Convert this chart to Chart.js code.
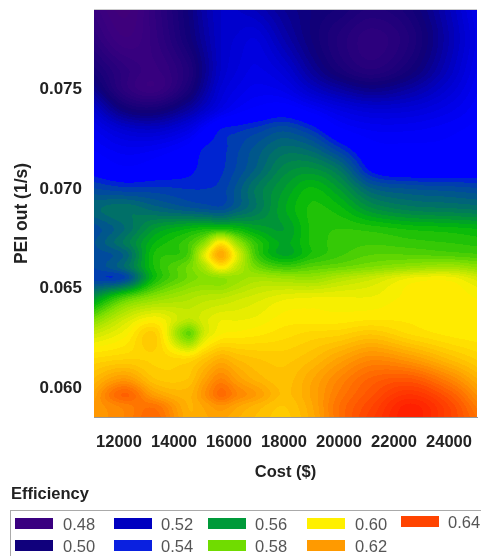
<!DOCTYPE html>
<html><head><meta charset="utf-8">
<script src="https://cdn.jsdelivr.net/npm/chart.js@4/dist/chart.umd.min.js"></script>
<style>
html,body{margin:0;padding:0;background:#fff;width:481px;height:556px;overflow:hidden;font-family:"Liberation Sans",Arial,sans-serif}
#wrap{position:relative;width:481px;height:556px;overflow:hidden;filter:blur(0.4px)}
canvas{position:absolute;left:0;top:0}
#ltitle{position:absolute;left:11px;top:483px;font-size:16.5px;line-height:20px;font-weight:bold;color:#222}
#lbox{position:absolute;left:10px;top:510px;width:480px;height:60px;border:1px solid #aaa;box-sizing:border-box}
.sw{position:absolute;width:38px;height:11px}
.lb{position:absolute;font-size:16.5px;line-height:20px;color:#555}
</style></head><body>
<div id="wrap"><canvas id="c" width="481" height="556"></canvas>
<div id="ltitle">Efficiency</div><div id="lbox"></div></div>
<script>
const costs=[11000,12200,13300,14500,15100,15700,16300,17000,18000,19000,20000,21200,22600,24000,25000];
const peiOut=[0.079,0.0775,0.076,0.075,0.074,0.073,0.072,0.071,0.070,0.069,0.068,0.0673,0.0667,0.0661,0.0655,0.0645,0.0635,0.0627,0.0615,0.0605,0.0597,0.0591,0.0585];
const efficiency=[
[.482,.474,.485,.500,.509,.515,.515,.512,.505,.500,.497,.492,.497,.512,.525],
[.488,.478,.484,.498,.507,.515,.518,.520,.510,.500,.492,.486,.493,.510,.523],
[.497,.486,.482,.492,.504,.515,.520,.523,.518,.506,.496,.490,.498,.513,.525],
[.506,.487,.481,.495,.507,.518,.523,.526,.524,.515,.508,.503,.508,.518,.527],
[.518,.500,.497,.507,.515,.523,.528,.531,.533,.528,.522,.518,.519,.524,.529],
[.526,.517,.515,.522,.530,.5375,.539,.541,.544,.5395,.531,.527,.527,.529,.531],
[.530,.526,.527,.532,.538,.539,.542,.546,.551,.549,.541,.532,.531,.531,.533],
[.535,.531,.533,.536,.539,.5395,.543,.548,.556,.558,.552,.536,.533,.533,.534],
[.543,.541,.541,.540,.540,.541,.546,.553,.560,.5655,.560,.548,.545,.544,.543],
[.549,.552,.549,.546,.545,.544,.548,.553,.562,.568,.566,.558,.554,.553,.552],
[.543,.550,.560,.565,.567,.568,.566,.562,.560,.568,.570,.569,.567,.566,.565],
[.544,.553,.565,.572,.582,.602,.584,.570,.562,.568,.571,.572,.571,.570,.569],
[.543,.548,.568,.573,.595,.617,.595,.572,.562,.568,.572,.575,.575,.574,.573],
[.542,.550,.568,.578,.587,.602,.590,.578,.572,.575,.577,.580,.583,.585,.582],
[.541,.543,.567,.578,.581,.582,.584,.586,.585,.584,.588,.592,.598,.599,.594],
[.558,.575,.583,.587,.589,.590,.592,.594,.597,.598,.598,.598,.601,.602,.600],
[.578,.592,.599,.590,.594,.597,.597,.598,.601,.601,.601,.602,.602,.602,.601],
[.592,.599,.608,.577,.593,.600,.601,.602,.604,.606,.607,.610,.605,.602,.601],
[.605,.607,.607,.605,.610,.615,.612,.610,.609,.612,.618,.624,.620,.612,.607],
[.612,.620,.610,.610,.618,.625,.619,.614,.611,.617,.625,.633,.635,.625,.615],
[.617,.633,.619,.614,.622,.631,.625,.620,.612,.618,.628,.637,.645,.635,.622],
[.620,.626,.629,.615,.618,.622,.618,.614,.610,.617,.630,.640,.651,.640,.627],
[.620,.625,.632,.616,.617,.618,.615,.612,.609,.616,.630,.642,.652,.641,.630]
];
const xTicks=[12000,14000,16000,18000,20000,22000,24000];
const yTicks=[0.060,0.065,0.070,0.075];
const legendLevels=["0.48","0.50","0.52","0.54","0.56","0.58","0.60","0.62","0.64"];
const legendColors=["#3a0080","#10007c","#0000c0","#0a20e0","#009a3a","#70dc00","#fff000","#ff9a00","#ff4400"];
const rampStops=[.465,.48,.50,.515,.53,.5365,.54,.55,.56,.565,.58,.60,.62,.64,.655];
const rampColors=[[74,0,112],[58,0,128],[14,0,120],[0,0,200],[0,0,255],[0,0,255],[0,56,184],[0,106,112],[0,154,48],[0,184,10],[128,224,0],[255,240,0],[255,156,0],[255,68,0],[255,20,0]];
const bandStep=0.0025;

function rampColor(v){
  if(v<=rampStops[0])return rampColors[0];
  for(let i=1;i<rampStops.length;i++){
    if(v<=rampStops[i]){const t=(v-rampStops[i-1])/(rampStops[i]-rampStops[i-1]);
      return rampColors[i].map((c,k)=>rampColors[i-1][k]+(c-rampColors[i-1][k])*t);}
  }
  return rampColors[rampColors.length-1];
}
function seg(arr,v){
  const n=arr.length;const asc=arr[1]>arr[0];
  for(let i=0;i<n-1;i++){const b=arr[i+1];if(asc?v<=b:v>=b)return i;}
  return n-2;
}
function hermite(ax,az,k,x){
  const n=ax.length,h=ax[k+1]-ax[k],t=(x-ax[k])/h;
  const s=(a,b)=>(az[b]-az[a])/(ax[b]-ax[a]);
  const m0=k>0?s(k-1,k+1):s(k,k+1),m1=k<n-2?s(k,k+2):s(k,k+1);
  const t2=t*t,t3=t2*t;
  return (2*t3-3*t2+1)*az[k]+(t3-2*t2+t)*h*m0+(-2*t3+3*t2)*az[k+1]+(t3-t2)*h*m1;
}
function field(x,y){
  const i=seg(costs,x),j=seg(peiOut,y);
  const j0=Math.max(0,j-1),j1=Math.min(peiOut.length-1,j+2);
  const ay=[],az=[];
  for(let r=j0;r<=j1;r++){ay.push(peiOut[r]);az.push(hermite(costs,efficiency[r],i,x));}
  return hermite(ay,az,j-j0,y);
}
const contourPlugin={id:'contour',beforeDatasetsDraw(ch){
  const a=ch.chartArea,xs=ch.scales.x,ys=ch.scales.y;
  const w=Math.round(a.right-a.left),h=Math.round(a.bottom-a.top);
  const off=document.createElement('canvas');off.width=w;off.height=h;
  const o=off.getContext('2d'),img=o.createImageData(w,h);
  for(let py=0;py<h;py++){const yv=ys.getValueForPixel(a.top+py+.5);
    for(let px=0;px<w;px++){const xv=xs.getValueForPixel(a.left+px+.5);
      const v=field(xv,yv);
      const q=(Math.floor(v/bandStep)+.5)*bandStep;
      const c=rampColor(q),p=(py*w+px)*4;
      img.data[p]=c[0];img.data[p+1]=c[1];img.data[p+2]=c[2];img.data[p+3]=255;
    }}
  o.putImageData(img,0,0);
  const g=ch.ctx;g.save();
  g.beginPath();g.rect(a.left,a.top,w,h);g.clip();
  g.filter='blur(0.6px)';
  g.drawImage(off,a.left,a.top);
  g.filter='none';
  g.restore();
  g.save();g.strokeStyle='#ccc';g.lineWidth=1;g.beginPath();g.moveTo(a.left,a.top-.5);g.lineTo(a.right,a.top-.5);g.stroke();g.restore();
}};
const points=[];
peiOut.forEach((y,j)=>costs.forEach((x,i)=>points.push({x,y,z:efficiency[j][i]})));
const noPad=s=>{s.paddingTop=0;s.paddingBottom=0;s.paddingLeft=0;s.paddingRight=0;};
const fnt=size=>({family:'"Liberation Sans"',size,weight:'bold'});
new Chart(document.getElementById('c'),{
  type:'scatter',
  data:{datasets:[{label:'Efficiency',data:points,pointRadius:0,pointHoverRadius:0}]},
  plugins:[contourPlugin],
  options:{
    responsive:false,animation:false,
    layout:{padding:{left:0,top:10,right:4,bottom:69}},
    plugins:{legend:{display:false},tooltip:{enabled:false}},
    scales:{
      x:{type:'linear',min:11090,max:25018,
        afterBuildTicks(s){s.ticks=xTicks.map(v=>({value:v}));},
        afterFit(s){s.height=70;noPad(s);},
        grid:{display:false,drawOnChartArea:false,drawTicks:true,tickLength:5,tickColor:'#888'},
        border:{display:true,color:'#999'},
        ticks:{color:'#222',font:fnt(16.5),padding:11,maxRotation:0,autoSkip:false,callback:v=>String(v)},
        title:{display:true,text:'Cost ($)',color:'#222',font:fnt(16.5),padding:{top:11,bottom:5}}},
      y:{type:'linear',min:0.05856,max:0.07898,
        afterBuildTicks(s){s.ticks=yTicks.map(v=>({value:v}));},
        afterFit(s){s.width=94;noPad(s);},
        grid:{display:false,drawOnChartArea:false,drawTicks:true,tickLength:5,tickColor:'#888'},
        border:{display:true,color:'#999'},
        ticks:{color:'#222',font:fnt(17),padding:7,callback:v=>v.toFixed(3)},
        title:{display:true,text:'PEI out (1/s)',color:'#222',font:fnt(17.5),padding:{top:12,bottom:0}}}
    }
  }
});
const swX=[15,114,208,307,401],lbX=[63,161,255,355,448];
const box=document.getElementById('wrap');
legendLevels.forEach((t,i)=>{
  const col=Math.floor(i/2),row=i%2;
  const off=(i===8)?-2:0;
  const s=document.createElement('div');s.className='sw';s.style.left=swX[col]+'px';s.style.top=(518+off+row*22)+'px';s.style.background=legendColors[i];box.appendChild(s);
  const l=document.createElement('div');l.className='lb';l.textContent=t;l.style.left=lbX[col]+'px';l.style.top=(514+off+row*22)+'px';box.appendChild(l);
});
</script></body></html>
